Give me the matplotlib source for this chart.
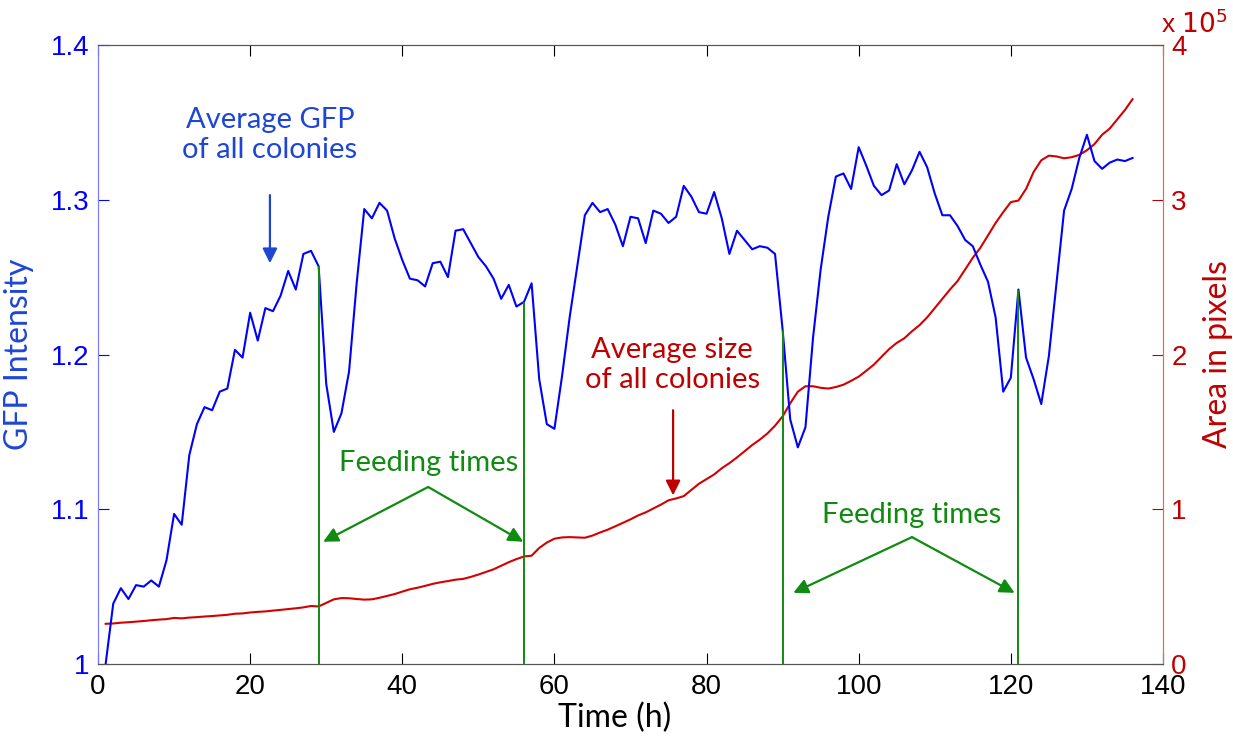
import numpy as np
import matplotlib
matplotlib.use('Agg')
import matplotlib.pyplot as plt

# time in hours (one sample per hour)
hours = list(range(1, 137))

# average GFP intensity of all colonies
gfp = [1.000, 1.039, 1.049, 1.042, 1.051, 1.050, 1.054, 1.050, 1.067, 1.097,
       1.090, 1.135, 1.155, 1.166, 1.164, 1.176, 1.178, 1.203, 1.198, 1.227,
       1.209, 1.230, 1.228, 1.238, 1.254, 1.242, 1.265, 1.267, 1.257, 1.181,
       1.150, 1.162, 1.189, 1.246, 1.294, 1.288, 1.298, 1.293, 1.275, 1.261,
       1.249, 1.248, 1.244, 1.259, 1.260, 1.250, 1.280, 1.281, 1.272, 1.263,
       1.257, 1.249, 1.236, 1.245, 1.231, 1.234, 1.246, 1.184, 1.155, 1.152,
       1.186, 1.224, 1.257, 1.290, 1.298, 1.292, 1.294, 1.284, 1.270, 1.289,
       1.288, 1.272, 1.293, 1.291, 1.285, 1.289, 1.309, 1.302, 1.292, 1.291,
       1.305, 1.288, 1.265, 1.280, 1.274, 1.268, 1.270, 1.269, 1.265, 1.216,
       1.158, 1.140, 1.153, 1.211, 1.255, 1.289, 1.315, 1.317, 1.307, 1.334,
       1.322, 1.309, 1.303, 1.306, 1.323, 1.310, 1.319, 1.331, 1.321, 1.304,
       1.290, 1.290, 1.283, 1.274, 1.270, 1.258, 1.247, 1.224, 1.176, 1.185,
       1.242, 1.198, 1.184, 1.168, 1.199, 1.246, 1.293, 1.307, 1.327, 1.342,
       1.325, 1.320, 1.324, 1.326, 1.325, 1.327]

# average colony area (x 1e5 pixels)
area = [0.260, 0.262, 0.267, 0.270, 0.274, 0.278, 0.283, 0.287, 0.290, 0.298,
        0.295, 0.300, 0.303, 0.307, 0.310, 0.314, 0.318, 0.325, 0.327, 0.333,
        0.337, 0.340, 0.345, 0.350, 0.355, 0.360, 0.366, 0.375, 0.372, 0.395,
        0.418, 0.426, 0.425, 0.420, 0.416, 0.418, 0.428, 0.440, 0.452, 0.468,
        0.483, 0.493, 0.505, 0.518, 0.528, 0.536, 0.545, 0.550, 0.563, 0.578,
        0.595, 0.612, 0.635, 0.658, 0.678, 0.695, 0.700, 0.750, 0.785, 0.810,
        0.818, 0.820, 0.818, 0.816, 0.830, 0.850, 0.868, 0.890, 0.912, 0.935,
        0.960, 0.980, 1.005, 1.030, 1.058, 1.070, 1.085, 1.125, 1.165, 1.195,
        1.225, 1.265, 1.298, 1.335, 1.375, 1.415, 1.450, 1.490, 1.540, 1.600,
        1.685, 1.760, 1.795, 1.795, 1.785, 1.780, 1.790, 1.805, 1.830, 1.857,
        1.895, 1.935, 1.985, 2.035, 2.075, 2.105, 2.150, 2.190, 2.240, 2.300,
        2.360, 2.420, 2.475, 2.550, 2.625, 2.690, 2.770, 2.850, 2.920, 2.985,
        2.995, 3.070, 3.180, 3.255, 3.285, 3.280, 3.268, 3.275, 3.290, 3.320,
        3.360, 3.420, 3.460, 3.520, 3.580, 3.650]

feeding = [29, 56, 90, 121]

BLUE = '#0000ff'
BLUE_TXT = '#1f45d6'
RED = '#d40000'
RED_TXT = '#c00000'
GREEN = '#118a11'

tick_font = ['Liberation Sans Narrow', 'Liberation Sans']
label_font = 'Lato'

fig = plt.figure(figsize=(12.33, 7.44), dpi=100)
ax2 = fig.add_axes([0.0795, 0.1075, 0.8637, 0.832])
ax = ax2.twinx()
# GFP axes on the left and drawn in front of the area axes
ax.yaxis.tick_left()
ax.yaxis.set_label_position('left')
ax2.yaxis.tick_right()
ax2.yaxis.set_label_position('right')

area_px = np.array(area) * 1e5
ax2.plot(hours, area_px, color=RED, lw=1.5)
ax2.set_ylim(0, 4e5)
ax2.set_yticks([0, 1e5, 2e5, 3e5, 4e5])
ax2.set_yticklabels(['0', '1', '2', '3', '4'])

ax.plot(hours, gfp, color=BLUE, lw=1.5)
for f in feeding:
    ax.vlines(f, 1.0, gfp[hours.index(f)], color=GREEN, lw=1.4)
ax.set_ylim(1.0, 1.4)
ax.set_xlim(0, 140)
ax.set_yticks([1.0, 1.1, 1.2, 1.3, 1.4])
ax.set_yticklabels(['1', '1.1', '1.2', '1.3', '1.4'])
ax2.set_xticks(range(0, 141, 20))

# MATLAB-like styling
for a in (ax, ax2):
    a.tick_params(direction='in', length=8, width=0.8)
ax2.tick_params(axis='x', top=True, labelsize=20, labelcolor='black', pad=7)
ax.tick_params(axis='y', colors=BLUE, labelsize=20, pad=6)
ax2.tick_params(axis='y', colors=RED_TXT, labelsize=20, pad=6)
for lab in ax2.get_xticklabels() + ax.get_yticklabels() + ax2.get_yticklabels():
    lab.set_family(tick_font)

for a in (ax, ax2):
    a.spines['top'].set_color('#555555')
    a.spines['bottom'].set_color('#555555')
    a.spines['left'].set_color('#7b7bff')
    a.spines['right'].set_color('#e06a6a')

ax2.set_xlabel('Time (h)', fontsize=23, family=label_font, labelpad=4)
ax2.xaxis.set_label_coords(0.485, -0.062)
ax.set_ylabel('GFP Intensity', fontsize=23, color=BLUE_TXT, family=label_font, labelpad=12)
ax2.set_ylabel('Area in pixels', fontsize=23, color=RED_TXT, family=label_font, labelpad=12)
ax2.text(0.998, 1.012, r'x $10^5$', transform=ax2.transAxes, fontsize=19,
         color=RED_TXT, family=tick_font, ha='left', va='bottom')

# annotations
ann_kw = dict(fontsize=21, family=label_font, ha='center', va='center', linespacing=1.2)
arrow_kw = dict(arrowstyle='-|>', lw=1.6, mutation_scale=22, shrinkA=0, shrinkB=0)

ax.text(22.6, 1.342, 'Average GFP\nof all colonies', color=BLUE_TXT, **ann_kw)
ax.annotate('', xy=(22.6, 1.259), xytext=(22.6, 1.303),
            arrowprops=dict(color=BLUE_TXT, **arrow_kw))

ax.text(75.5, 1.193, 'Average size\nof all colonies', color=RED_TXT, **ann_kw)
ax.annotate('', xy=(75.6, 1.109), xytext=(75.6, 1.164),
            arrowprops=dict(color=RED_TXT, **arrow_kw))

feed_labels = [(43.4, 1.130, 1.1144, [29.6, 55.9], 1.079),
               (107.0, 1.0963, 1.082, [91.4, 120.5], 1.046)]
for tx, ty, ay, targets, ty2 in feed_labels:
    ax.text(tx, ty, 'Feeding times', color=GREEN, **ann_kw)
    for xt in targets:
        ax.annotate('', xy=(xt, ty2), xytext=(tx, ay),
                    arrowprops=dict(color=GREEN, **arrow_kw))

plt.savefig('out.png', dpi=100)
plt.close()
